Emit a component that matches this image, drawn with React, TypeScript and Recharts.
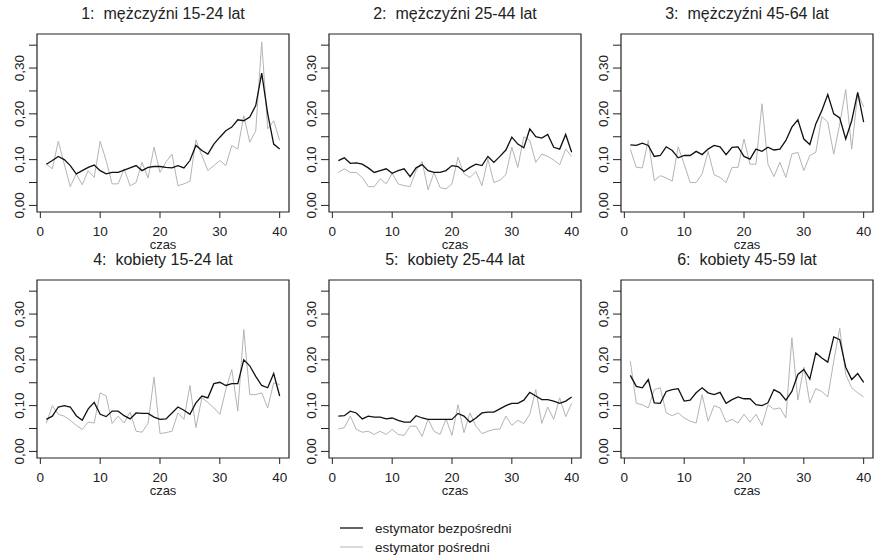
import React from 'react';
import { LineChart, Line, XAxis, YAxis, ReferenceArea } from 'recharts';

// okresy (czas) 1..40
const czas = [
  1, 2, 3, 4, 5, 6, 7, 8, 9, 10, 11, 12, 13, 14, 15, 16, 17, 18, 19, 20,
  21, 22, 23, 24, 25, 26, 27, 28, 29, 30, 31, 32, 33, 34, 35, 36, 37, 38, 39, 40,
];

const tytuly = [
  '1:  mężczyźni 15-24 lat',
  '2:  mężczyźni 25-44 lat',
  '3:  mężczyźni 45-64 lat',
  '4:  kobiety 15-24 lat',
  '5:  kobiety 25-44 lat',
  '6:  kobiety 45-59 lat',
];

// estymator bezpośredni
const bezposredni1 = [0.090, 0.098, 0.107, 0.100, 0.087, 0.069, 0.076, 0.083, 0.088, 0.076, 0.069, 0.072, 0.072, 0.077, 0.082, 0.087, 0.076, 0.083, 0.085, 0.085, 0.083, 0.082, 0.087, 0.082, 0.098, 0.131, 0.120, 0.112, 0.134, 0.149, 0.163, 0.171, 0.187, 0.185, 0.193, 0.218, 0.289, 0.200, 0.134, 0.123];
const bezposredni2 = [0.098, 0.104, 0.092, 0.093, 0.090, 0.082, 0.072, 0.076, 0.080, 0.070, 0.076, 0.080, 0.063, 0.082, 0.089, 0.076, 0.072, 0.072, 0.076, 0.087, 0.085, 0.074, 0.083, 0.090, 0.087, 0.107, 0.094, 0.107, 0.121, 0.149, 0.134, 0.126, 0.167, 0.150, 0.147, 0.155, 0.127, 0.123, 0.155, 0.116];
const bezposredni3 = [0.132, 0.131, 0.136, 0.131, 0.107, 0.109, 0.128, 0.120, 0.104, 0.109, 0.109, 0.118, 0.111, 0.123, 0.131, 0.128, 0.111, 0.127, 0.128, 0.107, 0.101, 0.123, 0.118, 0.127, 0.121, 0.123, 0.142, 0.171, 0.187, 0.145, 0.133, 0.178, 0.207, 0.242, 0.200, 0.191, 0.145, 0.185, 0.247, 0.182];
const bezposredni4 = [0.070, 0.077, 0.097, 0.100, 0.097, 0.078, 0.068, 0.093, 0.107, 0.081, 0.076, 0.088, 0.088, 0.078, 0.071, 0.084, 0.083, 0.083, 0.075, 0.070, 0.071, 0.084, 0.097, 0.090, 0.081, 0.106, 0.121, 0.117, 0.148, 0.151, 0.144, 0.148, 0.148, 0.200, 0.187, 0.164, 0.144, 0.139, 0.170, 0.121];
const bezposredni5 = [0.077, 0.078, 0.088, 0.084, 0.071, 0.077, 0.075, 0.075, 0.071, 0.073, 0.068, 0.064, 0.064, 0.078, 0.073, 0.070, 0.070, 0.070, 0.070, 0.070, 0.083, 0.077, 0.064, 0.073, 0.084, 0.086, 0.086, 0.093, 0.100, 0.105, 0.105, 0.112, 0.129, 0.121, 0.113, 0.113, 0.110, 0.105, 0.110, 0.119];
const bezposredni6 = [0.166, 0.142, 0.139, 0.157, 0.106, 0.105, 0.131, 0.135, 0.137, 0.110, 0.112, 0.128, 0.139, 0.128, 0.124, 0.129, 0.105, 0.113, 0.119, 0.115, 0.115, 0.102, 0.100, 0.106, 0.135, 0.128, 0.112, 0.131, 0.168, 0.179, 0.158, 0.215, 0.204, 0.195, 0.250, 0.244, 0.184, 0.157, 0.170, 0.151];

// estymator pośredni
const posredni1 = [0.090, 0.080, 0.140, 0.090, 0.041, 0.069, 0.045, 0.076, 0.061, 0.140, 0.098, 0.047, 0.047, 0.080, 0.043, 0.050, 0.094, 0.060, 0.127, 0.072, 0.095, 0.112, 0.043, 0.047, 0.053, 0.143, 0.109, 0.076, 0.087, 0.098, 0.087, 0.131, 0.123, 0.196, 0.138, 0.163, 0.357, 0.167, 0.185, 0.142];
const posredni2 = [0.072, 0.080, 0.072, 0.072, 0.061, 0.041, 0.041, 0.058, 0.047, 0.070, 0.047, 0.043, 0.041, 0.076, 0.096, 0.034, 0.072, 0.039, 0.036, 0.047, 0.105, 0.069, 0.061, 0.074, 0.043, 0.101, 0.050, 0.055, 0.067, 0.127, 0.083, 0.150, 0.142, 0.094, 0.112, 0.107, 0.099, 0.089, 0.123, 0.107];
const posredni3 = [0.123, 0.083, 0.082, 0.142, 0.054, 0.065, 0.060, 0.053, 0.128, 0.090, 0.050, 0.050, 0.069, 0.118, 0.067, 0.061, 0.050, 0.083, 0.083, 0.145, 0.090, 0.090, 0.222, 0.090, 0.063, 0.094, 0.061, 0.112, 0.116, 0.076, 0.109, 0.116, 0.194, 0.182, 0.112, 0.178, 0.253, 0.123, 0.245, 0.215];
const posredni4 = [0.061, 0.100, 0.081, 0.077, 0.068, 0.057, 0.048, 0.064, 0.062, 0.128, 0.121, 0.061, 0.077, 0.062, 0.086, 0.044, 0.042, 0.061, 0.162, 0.039, 0.041, 0.044, 0.084, 0.070, 0.144, 0.052, 0.117, 0.107, 0.095, 0.081, 0.135, 0.179, 0.088, 0.266, 0.124, 0.124, 0.128, 0.095, 0.150, 0.146];
const posredni5 = [0.049, 0.052, 0.077, 0.048, 0.042, 0.044, 0.037, 0.044, 0.037, 0.048, 0.037, 0.035, 0.055, 0.055, 0.033, 0.070, 0.044, 0.037, 0.071, 0.035, 0.102, 0.041, 0.084, 0.055, 0.039, 0.044, 0.048, 0.049, 0.077, 0.057, 0.068, 0.061, 0.081, 0.135, 0.061, 0.097, 0.070, 0.117, 0.076, 0.105];
const posredni6 = [0.197, 0.105, 0.102, 0.095, 0.135, 0.139, 0.084, 0.078, 0.084, 0.073, 0.066, 0.062, 0.124, 0.066, 0.100, 0.095, 0.064, 0.070, 0.062, 0.081, 0.064, 0.081, 0.057, 0.102, 0.092, 0.095, 0.073, 0.248, 0.112, 0.184, 0.106, 0.137, 0.131, 0.119, 0.197, 0.269, 0.168, 0.139, 0.128, 0.119];

const xTicks = [0, 10, 20, 30, 40];
const yTicks = [0, 0.05, 0.1, 0.15, 0.2, 0.25, 0.3, 0.35];
const yLabelled = [0, 0.1, 0.2, 0.3];

const X_DOMAIN: [number, number] = [-0.56, 41.56];
const Y_DOMAIN: [number, number] = [-0.0144, 0.3744];

const FONT = '"Liberation Sans", Arial, sans-serif';
const BOX_W = 252;
const BOX_H = 178;
const Y_AXIS_W = 37;
const X_AXIS_H = 40;
const TOP = 34;

const panels = [
  { title: tytuly[0], bezp: bezposredni1, posr: posredni1 },
  { title: tytuly[1], bezp: bezposredni2, posr: posredni2 },
  { title: tytuly[2], bezp: bezposredni3, posr: posredni3 },
  { title: tytuly[3], bezp: bezposredni4, posr: posredni4 },
  { title: tytuly[4], bezp: bezposredni5, posr: posredni5 },
  { title: tytuly[5], bezp: bezposredni6, posr: posredni6 },
];

const colLeft = [0, 292, 584];
const rowTop = [0, 246];

const YTick = (props: any) => {
  const { x, y, payload } = props;
  const v = payload.value;
  if (!yLabelled.some((l) => Math.abs(l - v) < 1e-9)) return <g />;
  const tx = x - 3;
  return (
    <text x={tx} y={y} transform={`rotate(-90 ${tx} ${y})`} textAnchor="middle" fontSize={13.5} fill="#222" fontFamily={FONT}>
      {v.toFixed(2).replace('.', ',')}
    </text>
  );
};

const Panel = ({ idx }: { idx: number }) => {
  const p = panels[idx];
  const left = colLeft[idx % 3];
  const top = rowTop[Math.floor(idx / 3)];
  const data = czas.map((t, i) => ({ czas: t, bezp: p.bezp[i], posr: p.posr[i] }));
  return (
    <>
      <div
        style={{
          position: 'absolute',
          left: left + Y_AXIS_W,
          top: top + 4,
          width: BOX_W,
          height: 20,
          lineHeight: '20px',
          textAlign: 'center',
          fontSize: 16,
          color: '#222',
          fontFamily: FONT,
          whiteSpace: 'pre',
        }}
      >
        {p.title}
      </div>
      <div style={{ position: 'absolute', left, top }}>
        <LineChart
          width={Y_AXIS_W + BOX_W + 1}
          height={TOP + BOX_H + X_AXIS_H}
          data={data}
          margin={{ top: TOP, right: 1, left: 0, bottom: 0 }}
        >
          <XAxis
            dataKey="czas"
            type="number"
            domain={X_DOMAIN}
            allowDataOverflow
            ticks={xTicks}
            interval={0}
            height={X_AXIS_H}
            axisLine={false}
            tickLine={{ stroke: '#222' }}
            tickSize={6}
            tickMargin={8}
            tick={{ fontSize: 13.5, fill: '#222', fontFamily: FONT }}
            label={{ value: 'czas', position: 'insideBottom', offset: 3, fontSize: 13, fill: '#222', fontFamily: FONT }}
          />
          <YAxis
            type="number"
            domain={Y_DOMAIN}
            allowDataOverflow
            ticks={yTicks}
            interval={0}
            width={Y_AXIS_W}
            axisLine={false}
            tickLine={{ stroke: '#222' }}
            tickSize={8}
            tick={<YTick />}
          />
          <ReferenceArea
            x1={X_DOMAIN[0]}
            x2={X_DOMAIN[1]}
            y1={Y_DOMAIN[0]}
            y2={Y_DOMAIN[1]}
            fill="none"
            stroke="#222"
            strokeWidth={1.2}
            ifOverflow="visible"
          />
          <Line type="linear" dataKey="posr" stroke="#b4b4b4" strokeWidth={1} dot={false} isAnimationActive={false} />
          <Line type="linear" dataKey="bezp" stroke="#111" strokeWidth={1.3} dot={false} isAnimationActive={false} />
        </LineChart>
      </div>
    </>
  );
};

export default function App() {
  return (
    <div style={{ position: 'absolute', left: 0, top: 0, width: 874, height: 560, background: '#fff', fontFamily: FONT }}>
      {panels.map((_, i) => (
        <Panel key={i} idx={i} />
      ))}
      <svg style={{ position: 'absolute', left: 330, top: 515 }} width={220} height={42}>
        <line x1={10} y1={13} x2={33} y2={13} stroke="#111" strokeWidth={1.3} />
        <line x1={10} y1={32} x2={33} y2={32} stroke="#b4b4b4" strokeWidth={1} />
        <text x={45} y={18} fontSize={13.5} fill="#222" fontFamily={FONT}>estymator bezpośredni</text>
        <text x={45} y={37} fontSize={13.5} fill="#222" fontFamily={FONT}>estymator pośredni</text>
      </svg>
    </div>
  );
}
